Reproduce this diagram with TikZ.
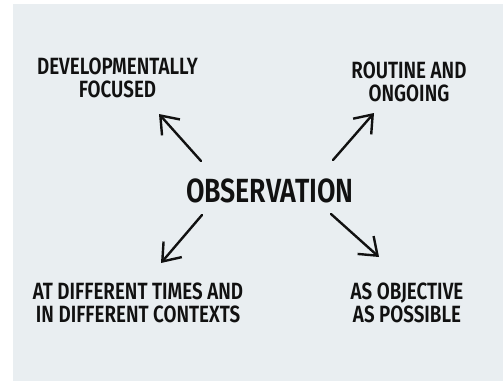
\documentclass[tikz,border=0pt]{standalone}
\usepackage{fontspec}
\usetikzlibrary{arrows.meta}
\newfontfamily\handfont{Fira Sans}[FakeStretch=0.8, UprightFont=* SemiBold]
\definecolor{panel}{HTML}{E9EEF1}
\definecolor{ink}{HTML}{111111}
\begin{document}
\begin{tikzpicture}[x=1pt,y=-1pt,
  lbl/.style={font=\handfont\fontsize{23.5}{23}\selectfont, align=center, inner sep=0pt, anchor=base, text=ink},
  title/.style={font=\handfont\fontsize{33.5}{35}\selectfont, inner sep=0pt, anchor=base, text=ink},
  arr/.style={draw=ink, line width=2.4pt, line cap=round, line join=round,
    -{Straight Barb[length=16pt,width=24pt,line width=2.4pt]}}]
\useasboundingbox (0,0) rectangle (503,383);
\fill[white] (0,0) rectangle (503,383);
\fill[panel] (13,4) rectangle (503,381);
\node[title] (obs) at (270,202) {OBSERVATION};
\node[lbl] (dev) at (117.5,97) {DEVELOPMENTALLY\\FOCUSED};
\node[lbl] (rout) at (409,101) {ROUTINE AND\\ONGOING};
\node[lbl] (diff) at (138,322) {AT DIFFERENT TIMES AND\\IN DIFFERENT CONTEXTS};
\node[lbl] (objv) at (407,322) {AS OBJECTIVE\\AS POSSIBLE};
\coordinate (nwT) at (201,161); \coordinate (nwH) at (159,114);
\coordinate (neT) at (333,160); \coordinate (neH) at (374,113);
\coordinate (swT) at (202,215); \coordinate (swH) at (161,263);
\coordinate (seT) at (331,214); \coordinate (seH) at (379,257);
\draw[arr] (nwT) -- (nwH);
\draw[arr] (neT) -- (neH);
\draw[arr] (swT) -- (swH);
\draw[arr] (seT) -- (seH);
\end{tikzpicture}
\end{document}
